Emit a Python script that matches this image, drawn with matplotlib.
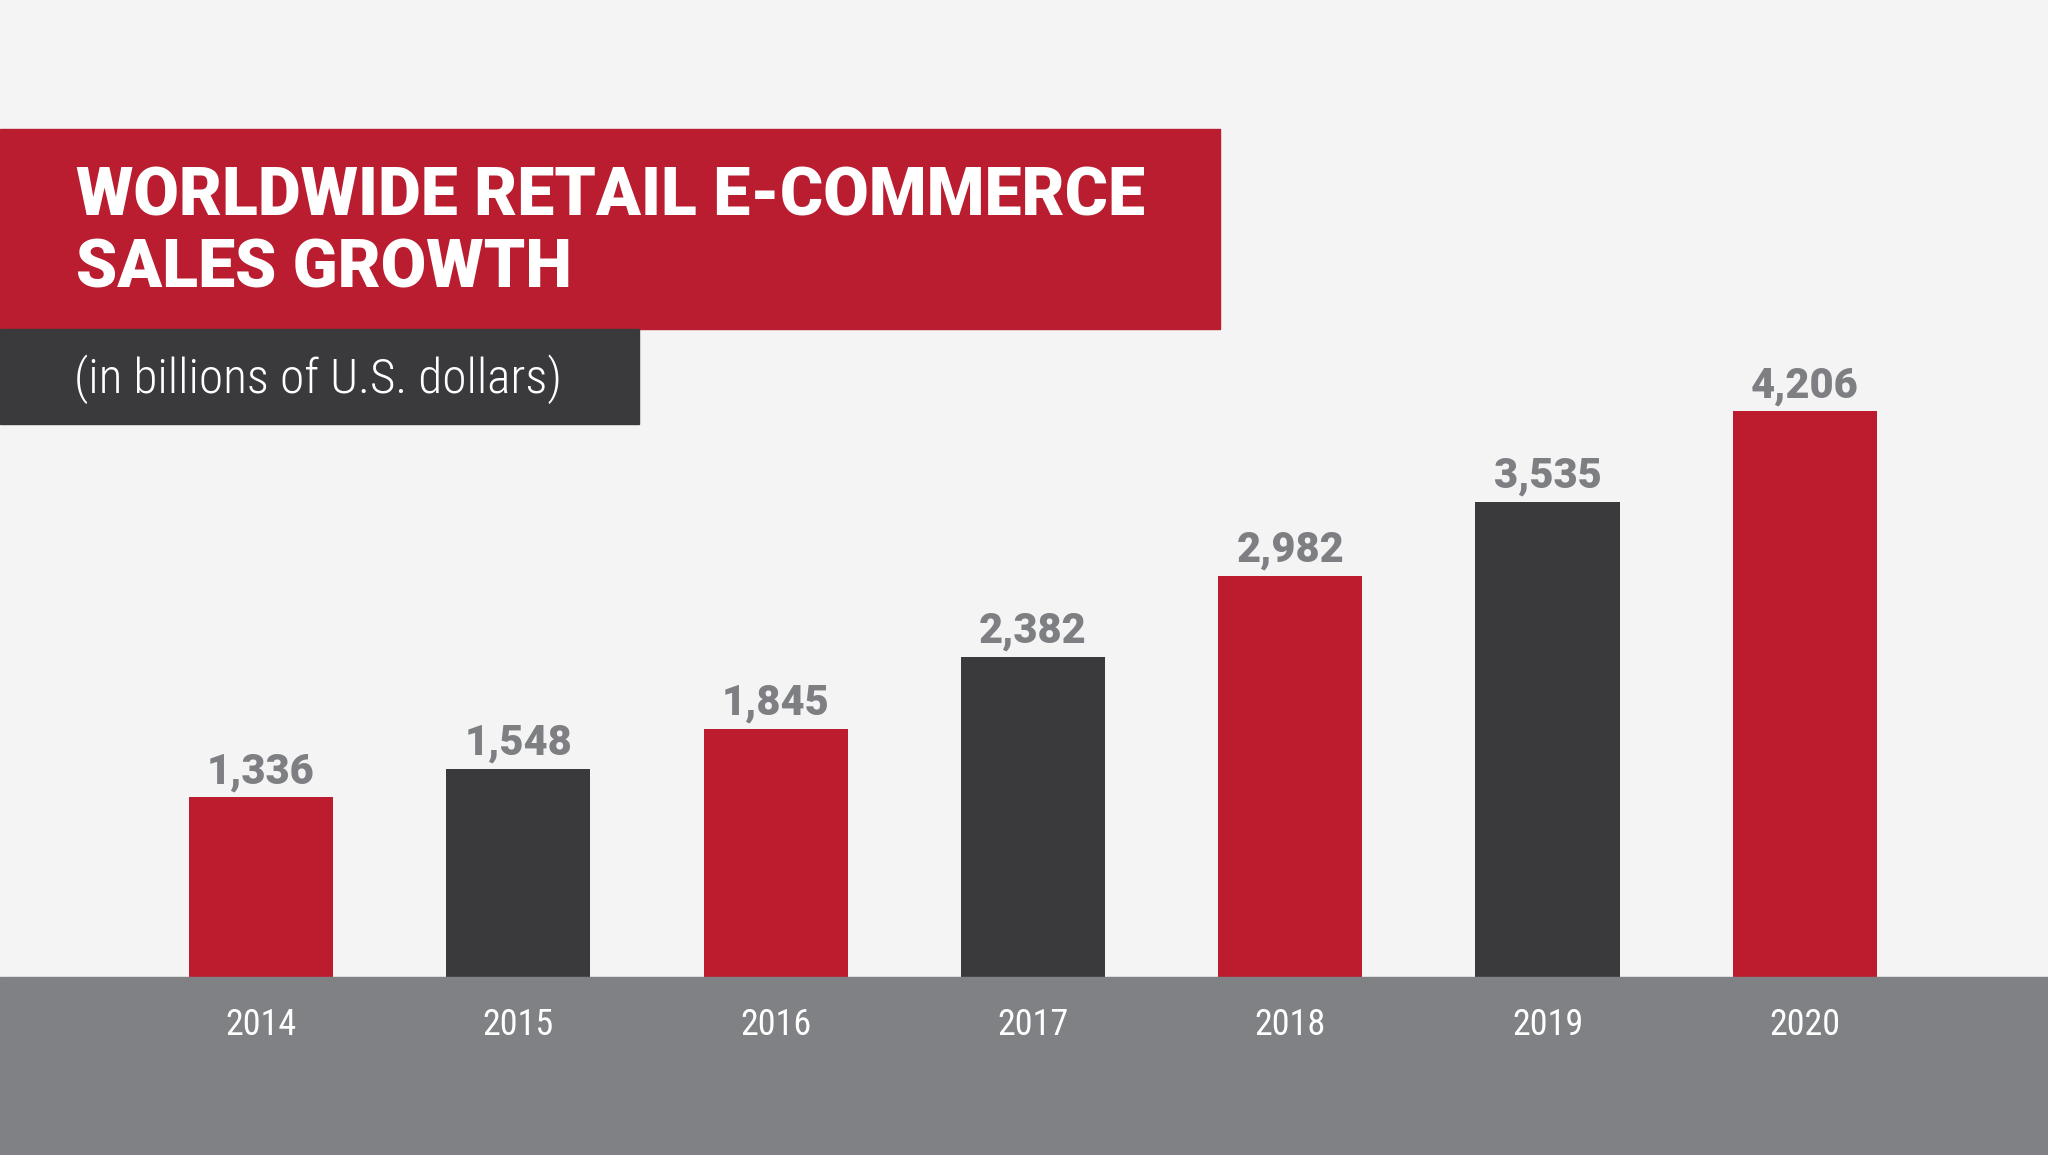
import matplotlib.pyplot as plt
from matplotlib.patches import Rectangle
from matplotlib import font_manager

years = ['2014', '2015', '2016', '2017', '2018', '2019', '2020']
sales = [1336, 1548, 1845, 2382, 2982, 3535, 4206]
bar_colors = ['#bc1c2e', '#3a3a3d', '#bc1c2e', '#3a3a3d', '#bc1c2e', '#3a3a3d', '#bc1c2e']

title_lines = ['WORLDWIDE RETAIL E-COMMERCE', 'SALES GROWTH']
subtitle = '(in billions of U.S. dollars)'

W, H = 2048, 1155
fig = plt.figure(figsize=(W / 100, H / 100), dpi=100)
fig.patch.set_facecolor('#f4f4f5')

names = {f.name for f in font_manager.fontManager.ttflist}
heavy = 'Roboto' if 'Roboto' in names else 'DejaVu Sans'
narrow = heavy
for cand in ['Roboto Condensed', 'Liberation Sans Narrow']:
    if cand in names:
        narrow = cand
        break

def box(x0, y0, x1, y1, color):
    fig.patches.append(Rectangle((x0 / W, 1 - y1 / H), (x1 - x0) / W, (y1 - y0) / H,
                                 transform=fig.transFigure, color=color, zorder=0))

box(0, 977, W, H, '#808185')
box(0, 129, 1220, 329, '#b91d2f')
box(0, 329, 639, 424, '#3a3a3d')

base = 977
ax = fig.add_axes([0, 1 - base / H, 1, base / H])
ax.set_facecolor('none')
step = 257.3
ax.set_xlim(-261 / step, (W - 261) / step)
ax.set_ylim(0, base / 0.1345)
x = list(range(len(years)))
ax.bar(x, sales, width=0.56, color=bar_colors, zorder=2)
for xi, v in zip(x, sales):
    ax.annotate(f'{v:,}', (xi, v), xytext=(0, 5), textcoords='offset pixels',
                ha='center', va='bottom', fontsize=30, fontweight='black',
                family=heavy, color='#7e7f83')
ax.axis('off')

for xi, yr in zip(x, years):
    fig.text((261 + step * xi) / W, 1 - 1025 / H, yr, ha='center', va='center',
             fontsize=26, color='white', family=narrow)

fig.text(76 / W, 1 - 215 / H, title_lines[0], ha='left', va='baseline',
         fontsize=47.5, fontweight='black', family=heavy, color='white')
fig.text(76 / W, 1 - 287 / H, title_lines[1], ha='left', va='baseline',
         fontsize=47.5, fontweight='black', family=heavy, color='white')
fig.text(74 / W, 1 - 379 / H, subtitle, ha='left', va='center',
         fontsize=35.5, fontweight=300, family=narrow, color='white')

fig.savefig('out.png', dpi=100, facecolor=fig.get_facecolor())
